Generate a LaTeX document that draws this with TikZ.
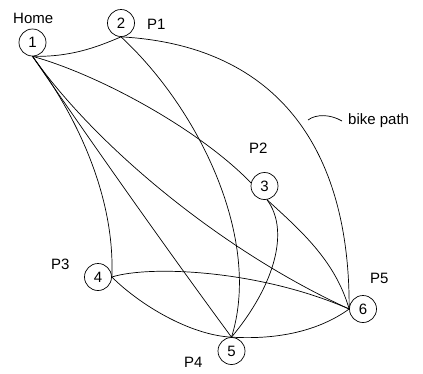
\documentclass[tikz,border=0pt]{standalone}
\usepackage{fontspec}
\setmainfont{Liberation Sans}
\begin{document}
\begin{tikzpicture}[x=1pt,y=-1pt,
  place/.style={circle,draw,line width=0.7pt,minimum size=27pt,inner sep=0pt,font=\fontsize{15}{18}\selectfont},
  lbl/.style={font=\fontsize{15}{18}\selectfont,inner sep=0pt,anchor=base west},
  edge/.style={line width=0.7pt}]
\useasboundingbox (0,0) rectangle (423,373);
\fill[white] (0,0) rectangle (423,373);
% places
\node[place] (n1) at (32.5,42.5) {1};
\node[place] (n2) at (121,23) {2};
\node[place] (n3) at (264.5,186) {3};
\node[place] (n4) at (98,277) {4};
\node[place] (n5) at (231.5,351) {5};
\node[place] (n6) at (363,309) {6};
% labels
\node[lbl] (home) at (13,23) {Home};
\node[lbl] (p1) at (147,29) {P1};
\node[lbl] (p2) at (249,153) {P2};
\node[lbl] (p3) at (51,269) {P3};
\node[lbl] (p4) at (184,367) {P4};
\node[lbl] (p5) at (370,283) {P5};
\node[lbl] (bike) at (348,124) {bike path};
\coordinate (s1) at (308,120);
\coordinate (s2) at (342,121);
\draw[edge] (s1) .. controls (316,114) and (330,114) .. (s2);
% connectors
\draw[edge] (n1.south) .. controls (70,57) and (95,48) .. (n2.south);
\draw[edge] (n2.south) .. controls (270,45) and (350,140) .. (n6.west);
\draw[edge] (n2.south) .. controls (200,110) and (262,240) .. (n5.north);
\draw[edge] (n1.south) .. controls (100,75) and (200,130) .. (n3.167);
\draw[edge] (n1.south) .. controls (80,120) and (115,200) .. (n4.east);
\draw[edge] (n1.south) .. controls (90,140) and (160,240) .. (n5.north);
\draw[edge] (n1.south) .. controls (95,145) and (220,250) .. (n6.west);
\draw[edge] (n3.-80) .. controls (290,230) and (275,285) .. (n5.north);
\draw[edge] (n3.-80) .. controls (300,230) and (335,260) .. (n6.west);
\draw[edge] (n4.east) .. controls (150,265) and (260,270) .. (n6.west);
\draw[edge] (n4.east) .. controls (140,305) and (190,335) .. (n5.north);
\draw[edge] (n5.north) .. controls (280,340) and (320,330) .. (n6.west);
\end{tikzpicture}
\end{document}
